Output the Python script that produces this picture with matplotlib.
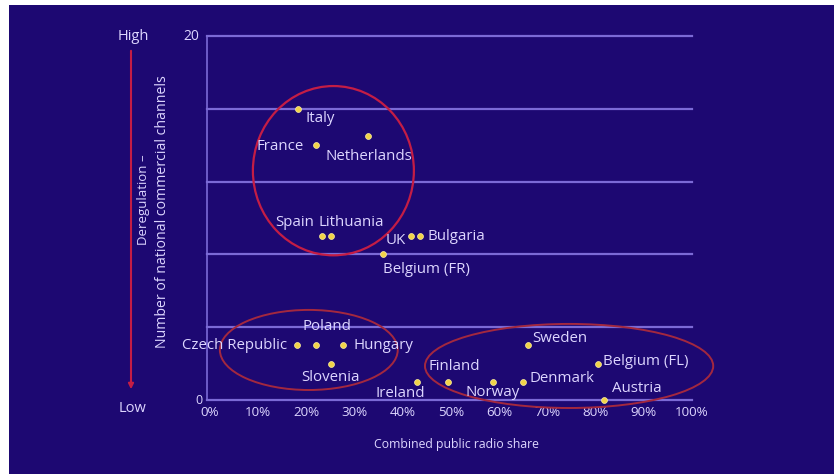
import matplotlib
matplotlib.use("Agg")
import matplotlib.pyplot as plt
from matplotlib.patches import Ellipse, Rectangle, FancyArrowPatch

# Combined public radio share (fraction) vs number of national commercial channels
countries = ["Italy", "France", "Netherlands", "Spain", "Lithuania", "UK", "Bulgaria",
             "Belgium (FR)", "Czech Republic", "Poland", "Hungary", "Slovenia",
             "Ireland", "Finland", "Norway", "Denmark", "Sweden", "Belgium (FL)", "Austria"]
public_share = [0.183, 0.22, 0.328, 0.232, 0.25, 0.418, 0.435,
                0.359, 0.18, 0.22, 0.275, 0.25,
                0.43, 0.494, 0.587, 0.65, 0.66, 0.805, 0.817]
channels = [16, 14, 14.5, 9, 9, 9, 9,
            8, 3, 3, 3, 2,
            1, 1, 1, 1, 3, 2, 0]

x_ticks = [i / 10 for i in range(11)]
x_tick_labels = [f"{i * 10}%" for i in range(11)]
y_grid = [0, 4, 8, 12, 16, 20]

# label placement: (dx, dy) in pixels, horizontal alignment
label_pos = {
    "Italy": (7, -10, "left"),
    "France": (-12, -1, "right"),
    "Netherlands": (1, -20, "center"),
    "Spain": (-8, 14, "right"),
    "Lithuania": (-12, 14, "left"),
    "UK": (-6, -4, "right"),
    "Bulgaria": (8, 0, "left"),
    "Belgium (FR)": (0, -15, "left"),
    "Czech Republic": (-10, 0, "right"),
    "Poland": (11, 19, "center"),
    "Hungary": (11, 0, "left"),
    "Slovenia": (0, -14, "center"),
    "Ireland": (-17, -12, "center"),
    "Finland": (-20, 15, "left"),
    "Norway": (0, -11, "center"),
    "Denmark": (6, 3, "left"),
    "Sweden": (4, 7, "left"),
    "Belgium (FL)": (5, 2, "left"),
    "Austria": (8, 12, "left"),
}

BG = "#1d0872"
GRID = "#7b6ad6"
TXT = "#ddd6ff"
DOT = "#f2d448"
RED = "#c41d45"
RED2 = "#a3283f"
FONT = ["Open Sans", "DejaVu Sans"]

W, H = 834, 474
fig = plt.figure(figsize=(W / 100, H / 100), dpi=100, facecolor="white")
fig.patches.append(Rectangle((9 / W, 0), 1 - 9 / W, 1 - 5 / H, transform=fig.transFigure,
                             facecolor=BG, edgecolor="none", zorder=-5))

ax = fig.add_axes([210 / W, 74 / H, 482 / W, 364 / H])
ax.set_facecolor("none")
ax.patch.set_alpha(0)
ax.set_xlim(0, 1)
ax.set_ylim(0, 20)
for s in ax.spines.values():
    s.set_visible(False)

for g in y_grid:
    ax.plot([-0.006, 1.0], [g, g], color=GRID, lw=1.6, zorder=1, clip_on=False)
ax.plot([-0.006, -0.006], [0, 20], color=GRID, lw=1.2, zorder=1, clip_on=False)

ax.set_xticks(x_ticks)
ax.set_xticklabels(x_tick_labels)
ax.set_yticks([])
ax.tick_params(length=0, colors=TXT, labelsize=9.6, pad=4)
for lab in ax.get_xticklabels():
    lab.set_fontfamily(FONT)

# y-axis end values
ax.text(-0.022, 20, "20", transform=ax.transData, ha="right", va="center",
        color=TXT, fontsize=10, family=FONT)
ax.text(-0.015, 0, "0", transform=ax.transData, ha="right", va="center",
        color=TXT, fontsize=9, family=FONT)

ax.scatter(public_share, channels, s=18, color=DOT, edgecolors="#fff2a0",
           linewidths=0.5, zorder=4, clip_on=False)

for name, xv, yv in zip(countries, public_share, channels):
    dx, dy, ha = label_pos[name]
    ax.annotate(name, (xv, yv), xytext=(dx, dy), textcoords="offset pixels",
                ha=ha, va="center", color=TXT, fontsize=10.8, family=FONT, zorder=5)

# cluster outlines
ax.add_patch(Ellipse((0.256, 12.6), 0.334, 9.3, fill=False, edgecolor=RED, lw=1.6,
                     zorder=3, clip_on=False))
ax.add_patch(Ellipse((0.205, 2.75), 0.369, 4.4, fill=False, edgecolor=RED2, lw=1.4,
                     zorder=3, clip_on=False))
ax.add_patch(Ellipse((0.745, 1.87), 0.598, 4.62, fill=False, edgecolor=RED2, lw=1.4,
                     zorder=3, clip_on=False))

ax.set_xlabel("Combined public radio share", color=TXT, fontsize=8.8, family=FONT)
ax.xaxis.set_label_coords(0.512, -0.104)

# deregulation scale on the left
fig.text(133 / W, 1 - 36 / H, "High", color=TXT, fontsize=10.5, family=FONT,
         ha="center", va="center")
fig.text(133 / W, 1 - 409 / H, "Low", color=TXT, fontsize=10.5, family=FONT,
         ha="center", va="center")
fig.patches.append(FancyArrowPatch((131 / W, 1 - 48 / H), (131 / W, 1 - 392 / H),
                                   transform=fig.transFigure,
                                   arrowstyle="-|>,head_length=3,head_width=1.5",
                                   color=RED, lw=1.5, zorder=2))
fig.text(143 / W, 1 - 200 / H, "Deregulation –", color=TXT, fontsize=9.5, family=FONT,
         rotation=90, ha="center", va="center")
fig.text(162 / W, 1 - 212 / H, "Number of national commercial channels", color=TXT,
         fontsize=10.2, family=FONT, rotation=90, ha="center", va="center")

fig.savefig("out.png", dpi=100, facecolor="white")
